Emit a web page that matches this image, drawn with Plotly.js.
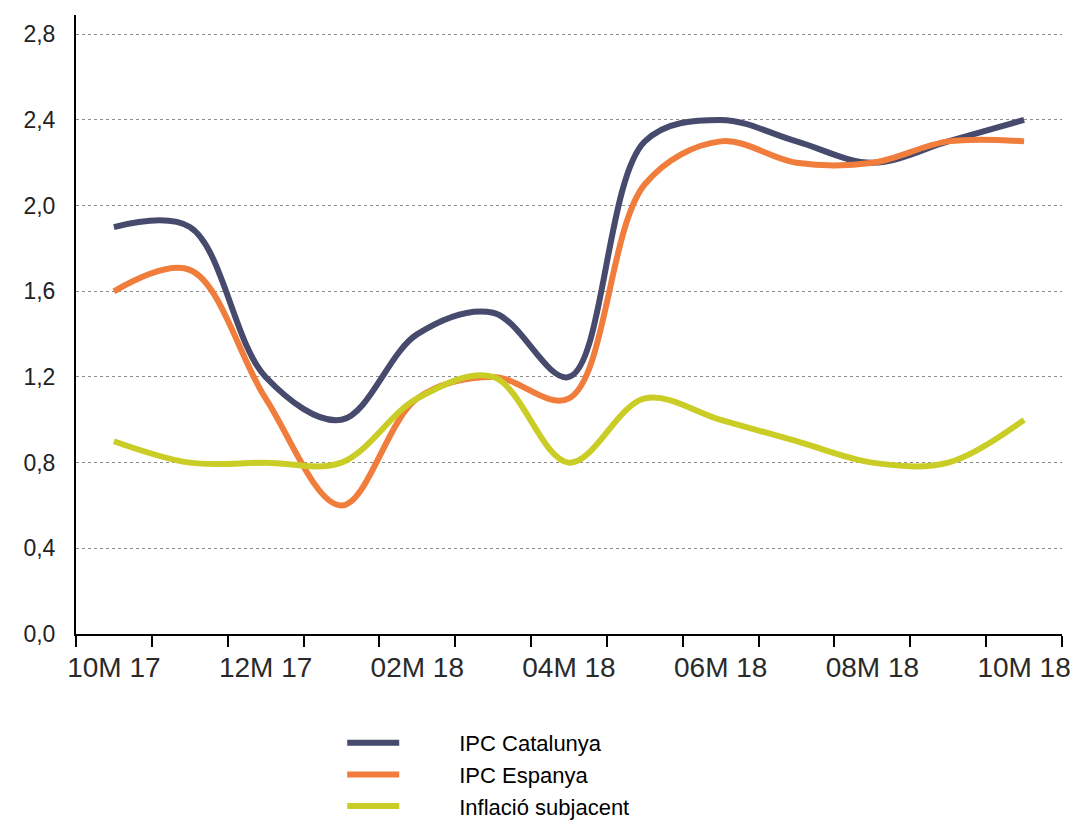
<!DOCTYPE html>
<html>
<head>
<meta charset="utf-8">
<script src="https://cdn.plot.ly/plotly-3.0.1.min.js"></script>
<style>
  html, body { margin: 0; padding: 0; background: #fff; }
  #chart { width: 1077px; height: 823px; }
</style>
</head>
<body>
<div id="chart"></div>
<script>
// Categories (months)
var months = ['10M 17','11M 17','12M 17','01M 18','02M 18','03M 18','04M 18','05M 18','06M 18','07M 18','08M 18','09M 18','10M 18'];
// Series values (%)
var ipcCatalunya = [1.9, 1.9, 1.2, 1.0, 1.4, 1.5, 1.2, 2.3, 2.4, 2.3, 2.2, 2.3, 2.4];
var ipcEspanya   = [1.6, 1.7, 1.1, 0.6, 1.1, 1.2, 1.1, 2.1, 2.3, 2.2, 2.2, 2.3, 2.3];
var inflacioSubjacent = [0.9, 0.8, 0.8, 0.8, 1.1, 1.2, 0.8, 1.1, 1.0, 0.9, 0.8, 0.8, 1.0];
// Series names
var seriesNames = ['IPC Catalunya', 'IPC Espanya', 'Inflació subjacent'];
// Tick labels
var yTicks = [0, 0.4, 0.8, 1.2, 1.6, 2.0, 2.4, 2.8];
var xLabelIdx = [0, 2, 4, 6, 8, 10, 12];

var xIdx = months.map(function (m, i) { return i; });
var pad = '\u00A0\u00A0\u00A0\u00A0\u00A0\u00A0\u00A0\u00A0\u00A0';

function series(name, y, color) {
  return {
    type: 'scatter', mode: 'lines', name: pad + name,
    x: xIdx, y: y,
    line: { color: color, width: 6, shape: 'spline', smoothing: 1 },
    hoverinfo: 'skip'
  };
}

var data = [
  series(seriesNames[0], ipcCatalunya, '#464a6c'),
  series(seriesNames[1], ipcEspanya, '#f07d3b'),
  series(seriesNames[2], inflacioSubjacent, '#cacd25')
];

var layout = {
  width: 1077, height: 823,
  paper_bgcolor: '#ffffff', plot_bgcolor: '#ffffff',
  margin: { l: 76, r: 15, t: 15, b: 189, pad: 0 },
  separators: ',.',
  font: { family: 'Liberation Sans, Arial, sans-serif', color: '#222' },
  xaxis: {
    range: [-0.5, 12.5],
    automargin: false,
    tickmode: 'array',
    tickvals: xLabelIdx,
    ticktext: xLabelIdx.map(function (i) { return months[i]; }),
    ticks: '',
    showgrid: false, zeroline: false,
    showline: true, linecolor: '#000', linewidth: 2,
    tickfont: { size: 28, color: '#2a2a2a' },
    ticklabelstandoff: 7,
    minor: { tickmode: 'linear', tick0: -0.5, dtick: 1, ticks: 'outside', ticklen: 11, tickwidth: 2, tickcolor: '#000', showgrid: false }
  },
  yaxis: {
    range: [0, 2.89],
    automargin: false,
    tickmode: 'array',
    tickvals: yTicks,
    tickformat: '.1f',
    ticks: '',
    showgrid: true, gridcolor: '#8c8c8c', gridwidth: 1, griddash: 'dot',
    zeroline: false,
    showline: true, linecolor: '#000', linewidth: 2,
    tickfont: { size: 23, color: '#222' },
    ticklabelstandoff: 14
  },
  showlegend: true,
  legend: {
    orientation: 'v',
    x: 0.27, xanchor: 'left',
    yref: 'container',
    y: 0.1227, yanchor: 'top',
    font: { size: 22, color: '#000' },
    itemwidth: 52,
    bgcolor: 'rgba(0,0,0,0)',
    tracegroupgap: 0
  }
};

Plotly.newPlot('chart', data, layout, { displayModeBar: false, staticPlot: true });
</script>
</body>
</html>
